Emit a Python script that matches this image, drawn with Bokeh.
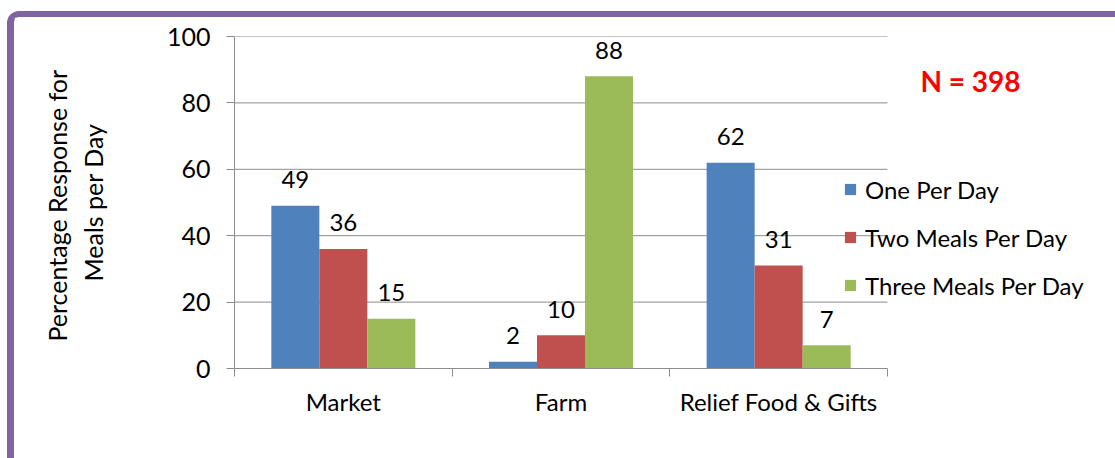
from bokeh.plotting import figure
from bokeh.models import (ColumnDataSource, LabelSet, Label, Legend, LegendItem, Range1d,
                          FixedTicker)
from bokeh.core.properties import value
from bokeh.embed import file_html
from bokeh.resources import INLINE

categories = ["Market", "Farm", "Relief Food & Gifts"]
series_names = ["One Per Day", "Two Meals Per Day", "Three Meals Per Day"]
one_per_day = [49, 2, 62]
two_meals = [36, 10, 31]
three_meals = [15, 88, 7]
y_ticks = [0, 20, 40, 60, 80, 100]
colors = ["#4F81BD", "#C0504D", "#9BBB59"]
note_text = "N = 398"

FONT = "Lato"
FS = "24px"
px_per_unit = 653 / 3.0
bar_w = 48 / px_per_unit
frame_w = 881
off_x, off_y = 14, 17   # canvas origin inside the purple frame

p = figure(output_backend="svg", toolbar_location=None,
           frame_width=frame_w, frame_height=332,
           min_border_left=234 - off_x, min_border_right=0,
           min_border_top=36 - off_y, min_border_bottom=90,
           x_range=Range1d(0, frame_w / px_per_unit), y_range=Range1d(0, 100))
p.styles = {"margin-left": "7px", "margin-top": "11px",
            "border-left": "7px solid #8064A2", "border-top": "6px solid #8064A2",
            "border-top-left-radius": "12px"}
p.outline_line_color = None
p.background_fill_color = "white"
p.border_fill_color = "white"
p.xgrid.visible = False
p.ygrid.visible = False

# horizontal gridlines spanning the category axis only
n = len(categories)
gy = [t for t in y_ticks if t > 0]
p.segment(x0=[0] * len(gy), x1=[n] * len(gy), y0=gy, y1=gy, line_color="#8C8C8C", line_width=1)

values = [one_per_day, two_meals, three_meals]
renderers = []
for i, (name, vals, col) in enumerate(zip(series_names, values, colors)):
    xs = [k + 0.5 + (i - 1) * bar_w for k in range(n)]
    src = ColumnDataSource(dict(x=xs, top=vals, lab=[str(v) for v in vals]))
    r = p.vbar(x="x", top="top", bottom=0, width=bar_w, source=src,
               fill_color=col, line_color=None)
    renderers.append(r)
    p.add_layout(LabelSet(x="x", y="top", text="lab", source=src, y_offset=26,
                          text_align="center", text_baseline="middle",
                          text_font=value(FONT), text_font_size=FS, text_color="black"))

# axes
xa = p.xaxis[0]
xa.ticker = FixedTicker(ticks=[k + 0.5 for k in range(n)], minor_ticks=list(range(n + 1)))
xa.major_label_overrides = {k + 0.5: c for k, c in enumerate(categories)}
xa.bounds = (0, n)
xa.major_tick_out = 0
xa.major_tick_in = 0
xa.minor_tick_out = 8
xa.minor_tick_in = 0
xa.axis_line_color = "#8C8C8C"
xa.minor_tick_line_color = "#8C8C8C"
xa.major_label_text_font = FONT
xa.major_label_text_font_size = FS
xa.major_label_text_color = "black"
xa.major_label_standoff = 10

ya = p.yaxis[0]
ya.ticker = FixedTicker(ticks=y_ticks)
ya.major_tick_out = 8
ya.major_tick_in = 0
ya.minor_tick_line_color = None
ya.axis_line_color = "#8C8C8C"
ya.major_tick_line_color = "#8C8C8C"
ya.major_label_text_font = FONT
ya.major_label_text_font_size = "25px"
ya.major_label_text_color = "black"
ya.major_label_standoff = 16
ya.axis_label = "Percentage  Response for\nMeals per Day"
ya.axis_label_text_font = FONT
ya.axis_label_text_font_size = "25px"
ya.axis_label_text_font_style = "normal"
ya.axis_label_text_color = "black"
ya.axis_label_standoff = 56

# legend
legend = Legend(items=[LegendItem(label=nm, renderers=[r]) for nm, r in zip(series_names, renderers)],
                location=(609, 68), orientation="vertical",
                glyph_width=14, glyph_height=14, label_standoff=8,
                label_height=30, spacing=18, padding=5, margin=0,
                label_text_font=FONT, label_text_font_size=FS, label_text_color="black",
                border_line_color=None, background_fill_alpha=0)
p.add_layout(legend)

# sample-size note
p.add_layout(Label(x=(970 - 234) / px_per_unit, y=86.7, text=note_text, text_align="center",
                   text_baseline="middle", text_font=FONT, text_font_size="28px",
                   text_font_style="bold", text_color="#FF0000"))

open("out.html", "w").write(file_html(p, INLINE))
